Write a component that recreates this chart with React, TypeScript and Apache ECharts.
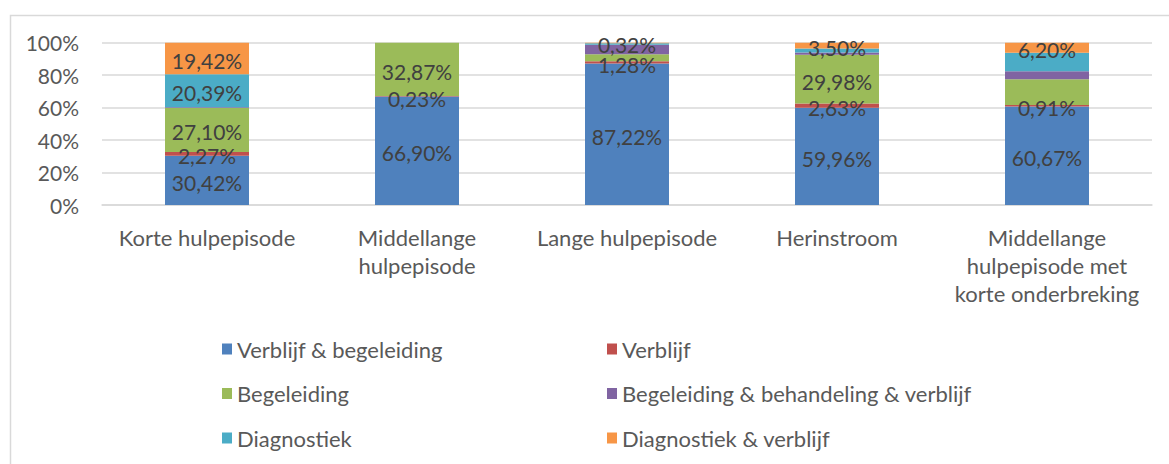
import React, { useEffect, useRef } from "react";
import * as echarts from "echarts";

const categories = [
  "Korte hulpepisode",
  "Middellange\nhulpepisode",
  "Lange hulpepisode",
  "Herinstroom",
  "Middellange\nhulpepisode met\nkorte onderbreking",
];

const seriesNames = [
  "Verblijf & begeleiding",
  "Verblijf",
  "Begeleiding",
  "Begeleiding & behandeling & verblijf",
  "Diagnostiek",
  "Diagnostiek & verblijf",
];

const verblijfBegeleiding = [30.42, 66.9, 87.22, 59.96, 60.67];
const verblijf = [2.27, 0.23, 1.28, 2.63, 0.91];
const begeleiding = [27.1, 32.87, 4.4, 29.98, 15.9];
const begeleidingBehandelingVerblijf = [0.4, 0, 5.8, 1.4, 5.0];
const diagnostiek = [20.39, 0, 0.98, 2.53, 11.32];
const diagnostiekVerblijf = [19.42, 0, 0.32, 3.5, 6.2];

const labelShown = [
  [true, true, true, true, true],
  [true, true, true, true, true],
  [true, true, false, true, false],
  [false, false, false, false, false],
  [true, false, false, false, false],
  [true, false, true, true, true],
];

const yTicks = [0, 20, 40, 60, 80, 100];

const colors = ["#4f81bd", "#c0504d", "#9bbb59", "#8064a2", "#4bacc6", "#f79646"];

export default function App() {
  const ref = useRef<HTMLDivElement>(null);
  useEffect(() => {
    if (!ref.current) return;
    const chart = echarts.init(ref.current, null, { renderer: "svg" });
    const values = [
      verblijfBegeleiding,
      verblijf,
      begeleiding,
      begeleidingBehandelingVerblijf,
      diagnostiek,
      diagnostiekVerblijf,
    ];
    const font = "Lato, 'Open Sans', sans-serif";
    const series = seriesNames.map((name, si) => ({
      name,
      type: "bar",
      stack: "total",
      barWidth: 84,
      itemStyle: { color: colors[si] },
      label: {
        position: "inside",
        fontFamily: font,
        fontSize: 21,
        color: "#404040",
        offset: [0, 2],
        formatter: (p: any) => p.value.toFixed(2).replace(".", ",") + "%",
      },
      data: values[si].map((v, ci) => ({
        value: v,
        label: { show: labelShown[si][ci] },
      })),
    }));
    const legendCommon = {
      orient: "vertical",
      top: 338,
      padding: 0,
      itemGap: 22.5,
      itemWidth: 10,
      itemHeight: 11,
      icon: "rect",
      textStyle: { fontFamily: font, fontSize: 22, color: "#595959" },
    };
    chart.setOption({
      animation: false,
      backgroundColor: "#ffffff",
      textStyle: { fontFamily: font },
      grid: { left: 102, right: 17, top: 42.7, bottom: 259, containLabel: false },
      xAxis: {
        type: "category",
        data: categories,
        axisLine: { lineStyle: { color: "#d9d9d9", width: 1.5 } },
        axisTick: { show: false },
        axisLabel: {
          fontFamily: font,
          fontSize: 22,
          color: "#595959",
          lineHeight: 28,
          margin: 18,
          interval: 0,
        },
      },
      yAxis: {
        type: "value",
        min: yTicks[0],
        max: yTicks[yTicks.length - 1],
        interval: 20,
        axisLine: { show: false },
        axisTick: { show: false },
        splitLine: { lineStyle: { color: "#d9d9d9", width: 1.5 } },
        axisLabel: {
          fontFamily: font,
          fontSize: 21,
          color: "#595959",
          margin: 23,
          formatter: (v: number) => v + "%",
        },
      },
      legend: [
        {
          ...legendCommon,
          left: 222,
          data: [seriesNames[0], seriesNames[2], seriesNames[4]],
        },
        {
          ...legendCommon,
          left: 607,
          data: [seriesNames[1], seriesNames[3], seriesNames[5]],
        },
      ],
      graphic: [
        {
          type: "rect",
          left: 8,
          top: 13,
          shape: { width: 1400, height: 600 },
          style: { fill: "none", stroke: "#d9d9d9", lineWidth: 1.5 },
          silent: true,
          z: -1,
        },
      ],
      series,
    });
    return () => chart.dispose();
  }, []);
  return (
    <div
      ref={ref}
      style={{ position: "fixed", left: 0, top: 0, width: 1169, height: 464 }}
    />
  );
}
